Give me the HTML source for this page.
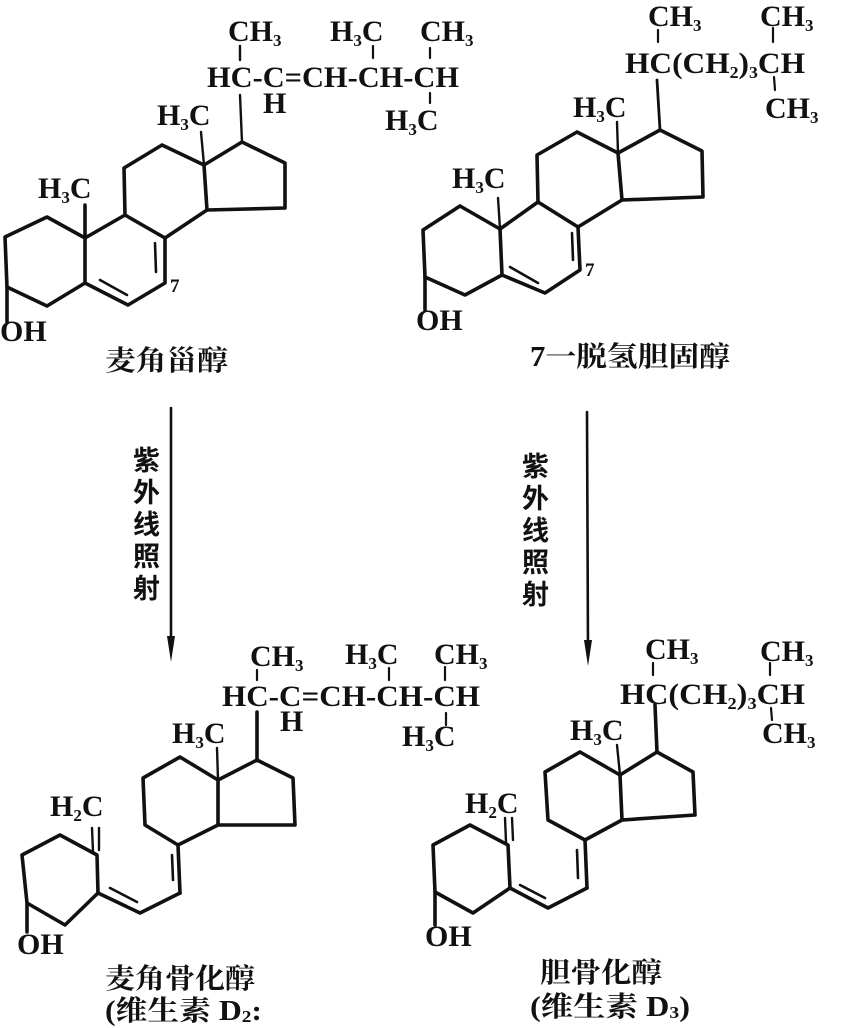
<!DOCTYPE html>
<html><head><meta charset="utf-8"><style>
html,body{margin:0;padding:0;background:#fff;}
svg{display:block;}
text{font-family:"Liberation Serif","Noto Serif CJK SC",serif;font-weight:bold;fill:#111;}
.f{font-size:30px;}
.s{font-size:17px;}
.cn{font-family:"Liberation Serif","Noto Serif CJK SC","Noto Sans CJK SC",serif;font-size:28px;}
.v{font-family:"Noto Sans CJK SC",sans-serif;font-size:27px;font-weight:bold;}
</style></head><body>
<svg width="853" height="1028" viewBox="0 0 853 1028" xmlns="http://www.w3.org/2000/svg">
<g stroke="#111" stroke-width="3.6" fill="none" stroke-linejoin="round" stroke-linecap="round">
<!-- TOP LEFT ergosterol -->
<polyline points="7,287 5,237 47,217 85,238 85,283 47,306 7,287"/>
<line x1="7" y1="287" x2="7" y2="322"/>
<line x1="85" y1="205" x2="85" y2="238"/>
<polyline points="85,238 125,215 165,238 165,283 128,305 85,283"/>
<line x1="100" y1="280" x2="127" y2="295" stroke-width="2.6"/>
<line x1="155" y1="243" x2="156" y2="272" stroke-width="2.6"/>
<polyline points="125,215 124,168 162,145 204,165 207,210 165,238"/>
<polyline points="204,165 242,142 285,163 285,208 207,210"/>
<line x1="204" y1="165" x2="201" y2="132" stroke-width="2.4"/>
<line x1="242" y1="142" x2="240" y2="95" stroke-width="2.4"/>
<line x1="240" y1="46" x2="240" y2="60" stroke-width="2.4"/>
<line x1="373" y1="46" x2="373" y2="58" stroke-width="2.2"/>
<line x1="430" y1="48" x2="430" y2="58" stroke-width="2.2"/>
<line x1="430" y1="93" x2="430" y2="103" stroke-width="2.2"/>

<!-- TOP RIGHT 7-dehydrocholesterol -->
<polyline points="425,277 423,230 460,206 500,229 502,275 465,295 425,277"/>
<line x1="425" y1="277" x2="425" y2="310"/>
<line x1="498" y1="198" x2="500" y2="229" stroke-width="2.4"/>
<polyline points="500,229 538,202 578,227 580,270 545,293 502,275"/>
<line x1="510" y1="267" x2="538" y2="283" stroke-width="2.6"/>
<line x1="572" y1="233" x2="573" y2="260" stroke-width="2.6"/>
<polyline points="538,202 537,155 577,132 618,153 622,200 578,227"/>
<polyline points="618,153 660,130 702,151 703,197 622,200"/>
<line x1="618" y1="153" x2="617" y2="122" stroke-width="2.4"/>
<line x1="660" y1="130" x2="657" y2="80" stroke-width="2.8"/>
<line x1="658" y1="30" x2="658" y2="42" stroke-width="2.2"/>
<line x1="773" y1="28" x2="773" y2="42" stroke-width="2.2"/>
<line x1="774" y1="77" x2="775" y2="90" stroke-width="2.2"/>

<!-- ARROWS -->
<line x1="171" y1="408" x2="171" y2="645" stroke-width="2.6"/>
<line x1="587" y1="412" x2="588" y2="650" stroke-width="2.6"/>

<!-- BOTTOM LEFT ergocalciferol -->
<polyline points="257,712 257,760"/>
<polyline points="257,760 293,778 295,825 218,825 218,780 257,760"/>
<line x1="218" y1="780" x2="217" y2="748" stroke-width="2.4"/>
<polyline points="218,780 180,757 143,778 145,825 178,845 218,825"/>
<line x1="178" y1="845" x2="180" y2="893"/>
<line x1="172" y1="855" x2="173" y2="880" stroke-width="2.6"/>
<polyline points="180,893 140,913 98,893"/>
<line x1="110" y1="888" x2="137" y2="902" stroke-width="2.6"/>
<polyline points="98,893 97,855 60,835 22,855 27,903 65,925 98,893"/>
<line x1="92" y1="828" x2="93" y2="852" stroke-width="2.4"/>
<line x1="99" y1="828" x2="99" y2="850" stroke-width="2.4"/>
<line x1="27" y1="903" x2="27" y2="932"/>
<line x1="257" y1="670" x2="257" y2="680" stroke-width="2.2"/>
<line x1="389" y1="668" x2="389" y2="680" stroke-width="2.2"/>
<line x1="445" y1="667" x2="445" y2="680" stroke-width="2.2"/>
<line x1="446" y1="713" x2="446" y2="725" stroke-width="2.2"/>

<!-- BOTTOM RIGHT cholecalciferol -->
<line x1="655" y1="705" x2="657" y2="752"/>
<polyline points="657,752 693,772 695,815 622,820 620,775 657,752"/>
<line x1="620" y1="775" x2="617" y2="745" stroke-width="2.4"/>
<polyline points="620,775 580,752 545,772 548,820 585,840 622,820"/>
<line x1="585" y1="840" x2="587" y2="888"/>
<line x1="577" y1="850" x2="578" y2="878" stroke-width="2.6"/>
<polyline points="587,888 548,908 510,888"/>
<line x1="520" y1="885" x2="545" y2="898" stroke-width="2.6"/>
<polyline points="510,888 508,845 470,825 433,845 435,892 473,913 510,888"/>
<line x1="505" y1="818" x2="506" y2="842" stroke-width="2.4"/>
<line x1="512" y1="818" x2="513" y2="840" stroke-width="2.4"/>
<line x1="435" y1="892" x2="435" y2="925"/>
<line x1="653" y1="663" x2="653" y2="675" stroke-width="2.2"/>
<line x1="770" y1="663" x2="770" y2="675" stroke-width="2.2"/>
<line x1="771" y1="708" x2="772" y2="720" stroke-width="2.2"/>
</g>
<polygon points="167,636 175,636 171,662" fill="#111"/>
<polygon points="584,640 592,640 588,666" fill="#111"/>

<!-- TOP LEFT text -->
<text class="f" x="228" y="41">CH<tspan class="s" dy="5">3</tspan></text>
<text class="f" x="330" y="41">H<tspan class="s" dy="5">3</tspan><tspan dy="-5">C</tspan></text>
<text class="f" x="420" y="41">CH<tspan class="s" dy="5">3</tspan></text>
<text class="f" x="207" y="87" textLength="252" lengthAdjust="spacingAndGlyphs">HC-C=CH-CH-CH</text>
<text class="f" x="263" y="113">H</text>
<text class="f" x="385" y="130">H<tspan class="s" dy="5">3</tspan><tspan dy="-5">C</tspan></text>
<text class="f" x="157" y="125">H<tspan class="s" dy="5">3</tspan><tspan dy="-5">C</tspan></text>
<text class="f" x="38" y="198">H<tspan class="s" dy="5">3</tspan><tspan dy="-5">C</tspan></text>
<text class="s" x="170" y="292" style="font-size:19px">7</text>
<text class="f" x="0" y="341">OH</text>
<text class="cn" x="105" y="370" textLength="123" lengthAdjust="spacingAndGlyphs">麦角甾醇</text>

<!-- TOP RIGHT text -->
<text class="f" x="648" y="26">CH<tspan class="s" dy="5">3</tspan></text>
<text class="f" x="760" y="26">CH<tspan class="s" dy="5">3</tspan></text>
<text class="f" x="625" y="73" textLength="180" lengthAdjust="spacingAndGlyphs">HC(CH<tspan class="s" dy="5">2</tspan><tspan dy="-5">)</tspan><tspan class="s" dy="5">3</tspan><tspan dy="-5">CH</tspan></text>
<text class="f" x="765" y="118">CH<tspan class="s" dy="5">3</tspan></text>
<text class="f" x="573" y="117">H<tspan class="s" dy="5">3</tspan><tspan dy="-5">C</tspan></text>
<text class="f" x="452" y="188">H<tspan class="s" dy="5">3</tspan><tspan dy="-5">C</tspan></text>
<text class="s" x="585" y="276" style="font-size:19px">7</text>
<text class="f" x="416" y="330">OH</text>
<text class="cn" x="530" y="366" textLength="200" lengthAdjust="spacingAndGlyphs">7一脱氢胆固醇</text>

<!-- ARROW labels -->
<text class="v" x="133" y="470">紫</text>
<text class="v" x="133" y="502">外</text>
<text class="v" x="133" y="534">线</text>
<text class="v" x="133" y="566">照</text>
<text class="v" x="133" y="598">射</text>
<text class="v" x="522" y="476">紫</text>
<text class="v" x="522" y="508">外</text>
<text class="v" x="522" y="540">线</text>
<text class="v" x="522" y="572">照</text>
<text class="v" x="522" y="604">射</text>

<!-- BOTTOM LEFT text -->
<text class="f" x="250" y="666">CH<tspan class="s" dy="5">3</tspan></text>
<text class="f" x="345" y="664">H<tspan class="s" dy="5">3</tspan><tspan dy="-5">C</tspan></text>
<text class="f" x="434" y="664">CH<tspan class="s" dy="5">3</tspan></text>
<text class="f" x="222" y="706" textLength="258" lengthAdjust="spacingAndGlyphs">HC-C=CH-CH-CH</text>
<text class="f" x="280" y="731">H</text>
<text class="f" x="402" y="746">H<tspan class="s" dy="5">3</tspan><tspan dy="-5">C</tspan></text>
<text class="f" x="172" y="743">H<tspan class="s" dy="5">3</tspan><tspan dy="-5">C</tspan></text>
<text class="f" x="50" y="816">H<tspan class="s" dy="5">2</tspan><tspan dy="-5">C</tspan></text>
<text class="f" x="17" y="954">OH</text>
<text class="cn" x="105" y="988" textLength="150" lengthAdjust="spacingAndGlyphs">麦角骨化醇</text>
<text class="cn" x="105" y="1020" textLength="157" lengthAdjust="spacingAndGlyphs">(维生素 D<tspan class="s" dy="2">2</tspan><tspan dy="-2">:</tspan></text>

<!-- BOTTOM RIGHT text -->
<text class="f" x="645" y="659">CH<tspan class="s" dy="5">3</tspan></text>
<text class="f" x="760" y="661">CH<tspan class="s" dy="5">3</tspan></text>
<text class="f" x="620" y="704" textLength="185" lengthAdjust="spacingAndGlyphs">HC(CH<tspan class="s" dy="5">2</tspan><tspan dy="-5">)</tspan><tspan class="s" dy="5">3</tspan><tspan dy="-5">CH</tspan></text>
<text class="f" x="762" y="743">CH<tspan class="s" dy="5">3</tspan></text>
<text class="f" x="570" y="740">H<tspan class="s" dy="5">3</tspan><tspan dy="-5">C</tspan></text>
<text class="f" x="465" y="813">H<tspan class="s" dy="5">2</tspan><tspan dy="-5">C</tspan></text>
<text class="f" x="425" y="946">OH</text>
<text class="cn" x="540" y="982" textLength="122" lengthAdjust="spacingAndGlyphs">胆骨化醇</text>
<text class="cn" x="530" y="1016" textLength="160" lengthAdjust="spacingAndGlyphs">(维生素 D<tspan class="s" dy="2">3</tspan><tspan dy="-2">)</tspan></text>
</svg>
</body></html>
